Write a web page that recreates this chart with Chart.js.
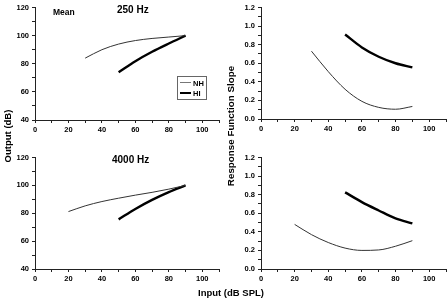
<!DOCTYPE html>
<html>
<head>
<meta charset="utf-8">
<script src="https://cdn.jsdelivr.net/npm/chart.js@4"></script>
<style>
  body { margin: 0; background: #fff; }
  #wrap { position: relative; width: 448px; height: 300px; overflow: hidden; font-family: "Liberation Sans", Arial, sans-serif; }
  canvas { position: absolute; }
  .txt { position: absolute; font-weight: bold; color: #000; white-space: nowrap; line-height: 1; }
  .rot { transform: translate(-50%, -50%) rotate(-90deg); }
  #legend { position: absolute; left: 177px; top: 76px; width: 28px; height: 22px; border: 1px solid #666; background: #fff; }
  #legend .row { position: absolute; left: 2px; height: 10px; font: bold 7.5px "Liberation Sans", Arial, sans-serif; }
  #legend .ln { position: absolute; left: 0; width: 11px; background: #000; }
  #legend .lb { position: absolute; left: 13px; top: 1px; }
</style>
</head>
<body>
<div id="wrap">
  <canvas id="c250" width="224" height="150" style="left:0;top:0"></canvas>
  <canvas id="s250" width="224" height="150" style="left:224px;top:0"></canvas>
  <canvas id="c4k" width="224" height="150" style="left:0;top:150px"></canvas>
  <canvas id="s4k" width="224" height="150" style="left:224px;top:150px"></canvas>

  <div class="txt" style="left:53px;top:8px;font-size:8.5px">Mean</div>
  <div class="txt" style="left:117px;top:5px;font-size:10px">250 Hz</div>
  <div class="txt" style="left:112px;top:155px;font-size:10px">4000 Hz</div>
  <div class="txt rot" style="left:8px;top:136px;font-size:9.5px">Output (dB)</div>
  <div class="txt rot" style="left:231px;top:126px;font-size:9.8px">Response Function Slope</div>
  <div class="txt" style="left:198px;top:288px;font-size:9.5px">Input (dB SPL)</div>

  <div id="legend">
    <div class="row" style="top:1px"><div class="ln" style="top:4px;height:1px;background:#777"></div><div class="lb">NH</div></div>
    <div class="row" style="top:11px"><div class="ln" style="top:4px;height:2px"></div><div class="lb">HI</div></div>
  </div>
</div>
<script>
// 250 Hz
const inNH250 = [30, 40, 50, 60, 70, 80, 90];
const outNH250 = [84, 90, 94, 96.5, 98, 99, 100];
const slopeNH250 = [0.73, 0.51, 0.32, 0.19, 0.125, 0.105, 0.135];
const inHI250 = [50, 60, 70, 80, 90];
const outHI250 = [74, 81.8, 88.5, 94.4, 100];
const slopeHI250 = [0.91, 0.77, 0.67, 0.6, 0.555];

// 4000 Hz
const inNH4k = [20, 30, 40, 50, 60, 70, 80, 90];
const outNH4k = [81.2, 85.3, 88.4, 90.8, 93, 95, 97.3, 100];
const slopeNH4k = [0.48, 0.37, 0.285, 0.225, 0.2, 0.205, 0.245, 0.305];
const inHI4k = [50, 60, 70, 80, 90];
const outHI4k = [75.6, 83.1, 89.6, 95.2, 100];
const slopeHI4k = [0.825, 0.72, 0.63, 0.545, 0.49];

// axis ranges
const xTicks = { min: 0, max: 110, step: 10 };
const outTicks = { min: 40, max: 120, step: 10 };
const slopeTicks = { min: 0, max: 1.2, step: 0.1 };

const tickFont = { family: "Liberation Sans", size: 7.5, weight: "bold" };

function pts(xs, ys) {
  return xs.map((x, i) => ({ x: x, y: ys[i] }));
}

function line(xs, ys, width) {
  return {
    data: pts(xs, ys),
    borderColor: width > 1 ? "#000" : "#333",
    borderWidth: width,
    pointRadius: 0,
    fill: false,
    tension: 0.4,
    cubicInterpolationMode: "monotone",
  };
}

function axis(range, size, isY, label) {
  return {
    type: "linear",
    min: range.min,
    max: range.max,
    afterFit: (s) => { if (isY) s.width = size; else s.height = size; },
    border: { display: true, color: "#222", width: 1 },
    grid: { display: true, drawOnChartArea: false, drawTicks: true, tickLength: 3, color: "#222" },
    ticks: {
      stepSize: range.step,
      autoSkip: false,
      maxRotation: 0,
      color: "#000",
      padding: isY ? 3 : 2,
      font: tickFont,
      callback: label,
    },
  };
}

const everyOther = (v) => (Math.round(v) % 20 === 0 ? String(Math.round(v)) : "");
const slopeLabel = (v) => (Math.round(v * 10) % 2 === 0 ? v.toFixed(1) : "");

function makeChart(id, datasets, yRange, yLabel, yWidth, xHeight, padding) {
  new Chart(document.getElementById(id), {
    type: "line",
    data: { datasets: datasets },
    options: {
      responsive: false,
      animation: false,
      devicePixelRatio: 1,
      layout: { padding: padding },
      plugins: { legend: { display: false }, tooltip: { enabled: false } },
      scales: {
        x: axis(xTicks, xHeight, false, everyOther),
        y: axis(yRange, yWidth, true, yLabel),
      },
    },
  });
}

makeChart("c250", [line(inNH250, outNH250, 1), line(inHI250, outHI250, 2.4)],
  outTicks, everyOther, 35, 30, { left: 0, right: 5, top: 6, bottom: 0 });
makeChart("s250", [line(inNH250, slopeNH250, 1), line(inHI250, slopeHI250, 2.4)],
  slopeTicks, slopeLabel, 37, 31, { left: 0, right: 2, top: 5, bottom: 0 });
makeChart("c4k", [line(inNH4k, outNH4k, 1), line(inHI4k, outHI4k, 2.4)],
  outTicks, everyOther, 35, 31, { left: 0, right: 5, top: 5, bottom: 0 });
makeChart("s4k", [line(inNH4k, slopeNH4k, 1), line(inHI4k, slopeHI4k, 2.4)],
  slopeTicks, slopeLabel, 37, 31, { left: 0, right: 2, top: 5, bottom: 0 });
</script>
</body>
</html>
